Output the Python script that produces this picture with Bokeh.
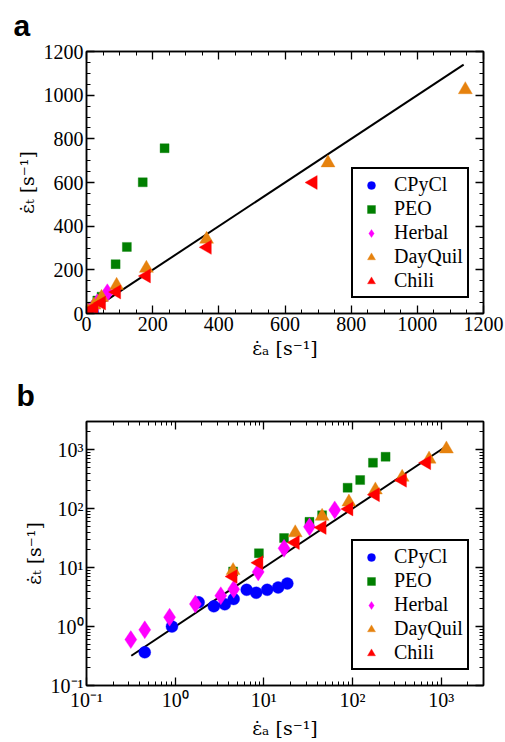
import math
from bokeh.plotting import figure
from bokeh.layouts import column
from bokeh.models import (Legend, LegendItem, LinearAxis, FixedTicker, CustomLabelingPolicy,
                          CustomJSTickFormatter, Range1d, ColumnDataSource)
from bokeh.embed import file_html
from bokeh.resources import INLINE

# ---- data (strain rates, s^-1) ----
cpycl_x = [0.454, 0.92, 1.84, 2.73, 3.63, 4.57, 6.4, 8.2, 10.9, 14.5, 18.4]
cpycl_y = [0.365, 1.0, 2.57, 2.2, 2.38, 2.93, 4.2, 3.74, 4.2, 4.6, 5.37]

peo_x = [4.5, 8.8, 16.9, 32.7, 45.4, 88.0, 122.0, 170.0, 236.0]
peo_y = [8.6, 17.5, 31.7, 59.6, 77.0, 226.0, 305.0, 601.0, 757.0]

herbal_x = [0.316, 0.454, 0.865, 1.69, 3.27, 4.57, 8.64, 16.9, 32.7, 63.0]
herbal_y = [0.6, 0.88, 1.44, 2.41, 3.33, 4.3, 8.45, 21.2, 49.0, 95.0]

dayquil_x = [4.5, 22.6, 45.4, 91.0, 181.0, 363.0, 730.0, 1145.0]
dayquil_y = [8.9, 38.9, 74.0, 129.0, 207.0, 340.0, 690.0, 1025.0]

chili_x = [4.5, 8.8, 22.6, 45.4, 91.0, 181.0, 365.0, 685.0]
chili_y = [7.05, 12.1, 26.5, 47.9, 98.6, 172.0, 303.0, 600.0]

fit_x = [0.32, 1140.0]
fit_y = [0.32, 1140.0]

series = [
    ("CPyCl", cpycl_x, cpycl_y, "circle", "#0000ff", 12, 0.0),
    ("PEO", peo_x, peo_y, "square", "#007f00", 9, 0.0),
    ("Herbal", herbal_x, herbal_y, "diamond", "#ff00ff", 18, 0.0),
    ("DayQuil", dayquil_x, dayquil_y, "triangle", "#e6820e", 14, 0.0),
    ("Chili", chili_x, chili_y, "triangle", "#ff0000", 14, math.pi / 2),
]

SERIF = "Liberation Serif"
LABEL_FONT = "DejaVu Serif"
XLABEL = "\u03b5\u0307\u2090 [s\u207b\u00b9]"
YLABEL = "\u03b5\u0307\u209c [s\u207b\u00b9]"

HIDE = """
try {
  for (let i = 0; i < indices.size; i++) indices.unset(i)
  return indices
} catch (e) {
  return new Map()
}
"""


def style_axis(ax, labels=True):
    ax.axis_line_color = "black"
    ax.axis_line_width = 1.5
    ax.major_tick_in = 8
    ax.major_tick_out = 0
    ax.minor_tick_in = 4
    ax.minor_tick_out = 0
    ax.major_tick_line_width = 1.3
    ax.minor_tick_line_width = 1.0
    ax.major_tick_line_color = "black"
    ax.minor_tick_line_color = "black"
    if labels:
        ax.major_label_text_font = SERIF
        ax.major_label_text_font_size = "20px"
        ax.major_label_text_color = "black"
        ax.major_label_standoff = 3
        ax.axis_label_text_font = LABEL_FONT
        ax.axis_label_text_font_size = "19px"
        ax.axis_label_text_font_style = "normal"
        ax.axis_label_text_color = "black"
        ax.axis_label_standoff = 3
    else:
        ax.major_label_text_font_size = "1px"
        ax.major_label_standoff = 0
        ax.major_label_policy = CustomLabelingPolicy(code=HIDE)


def add_series(p, legend_items):
    for name, xs, ys, marker, color, size, ang in series:
        src = ColumnDataSource(dict(x=xs, y=ys))
        r = p.scatter("x", "y", source=src, marker=marker, size=size, angle=ang,
                      fill_color=color, line_color=color, line_alpha=0.35, line_width=1)
        legend_items.append(LegendItem(label=name, renderers=[r]))


def make_legend(items):
    lg = Legend(items=items, location=(265, 15))
    lg.label_text_font = SERIF
    lg.label_text_font_size = "20px"
    lg.label_text_color = "black"
    lg.border_line_color = "black"
    lg.border_line_alpha = 1.0
    lg.border_line_width = 2
    lg.background_fill_color = "white"
    lg.background_fill_alpha = 1.0
    lg.padding = 4
    lg.spacing = 1
    lg.glyph_height = 20
    lg.glyph_width = 28
    lg.label_height = 20
    lg.label_standoff = 9
    lg.margin = 0
    return lg


def style_title(p, letter):
    p.title.text = letter
    p.title.text_font = "Liberation Sans"
    p.title.text_font_style = "bold"
    p.title.text_font_size = "30px"
    p.title.text_color = "black"
    p.title.align = "left"
    p.title.offset = -73
    p.title.standoff = 12


# ---------------- panel a (linear) ----------------
pa = figure(width=505, height=370, output_backend="svg", toolbar_location=None,
            x_range=Range1d(0, 1200), y_range=Range1d(0, 1200),
            min_border_left=86, min_border_right=22, min_border_top=49, min_border_bottom=57)
pa.xgrid.visible = False
pa.ygrid.visible = False
pa.outline_line_color = "black"
pa.outline_line_width = 1.5
pa.background_fill_color = "white"
style_title(pa, "a")

tick_a = FixedTicker(ticks=[0, 200, 400, 600, 800, 1000, 1200],
                     minor_ticks=[v for v in range(0, 1201, 50)])
for ax in pa.xaxis + pa.yaxis:
    ax.ticker = tick_a
    style_axis(ax)
pa.xaxis.axis_label = XLABEL
pa.yaxis.axis_label = YLABEL
for side in ("right", "above"):
    ax = LinearAxis(ticker=tick_a)
    style_axis(ax, labels=False)
    pa.add_layout(ax, side)

pa.line(fit_x, fit_y, line_color="black", line_width=2)
items_a = []
add_series(pa, items_a)
pa.add_layout(make_legend(items_a), "center")

# ---------------- panel b (log-log) ----------------
pb = figure(width=505, height=371, output_backend="svg", toolbar_location=None,
            x_axis_type="log", y_axis_type="log",
            x_range=Range1d(0.1, 3000), y_range=Range1d(0.1, 3000),
            min_border_left=83, min_border_right=22, min_border_top=51, min_border_bottom=55)
pb.xgrid.visible = False
pb.ygrid.visible = False
pb.outline_line_color = "black"
pb.outline_line_width = 1.5
pb.background_fill_color = "white"
style_title(pb, "b")
pb.title.offset = -70

decades = [0.1, 1, 10, 100, 1000]
minor_b = [d * k for d in decades for k in range(1, 10) if d * k <= 3000]
tick_b = FixedTicker(ticks=decades, minor_ticks=minor_b)
fmt_b = CustomJSTickFormatter(code="""
const e = Math.round(Math.log10(tick));
const sup = {'-1': '\u207b\u00b9', '0': '\u2070', '1': '\u00b9', '2': '\u00b2', '3': '\u00b3'};
return '10' + (sup[String(e)] || String(e));
""")
for ax in pb.xaxis + pb.yaxis:
    ax.ticker = tick_b
    ax.formatter = fmt_b
    style_axis(ax)
pb.xaxis.axis_label = XLABEL
pb.yaxis.axis_label = YLABEL
for side in ("right", "above"):
    ax = LinearAxis(ticker=tick_b)
    style_axis(ax, labels=False)
    pb.add_layout(ax, side)

pb.line(fit_x, fit_y, line_color="black", line_width=2)
items_b = []
add_series(pb, items_b)
pb.add_layout(make_legend(items_b), "center")

layout = column(pa, pb, spacing=0)
open("out.html", "w").write(file_html(layout, INLINE))
